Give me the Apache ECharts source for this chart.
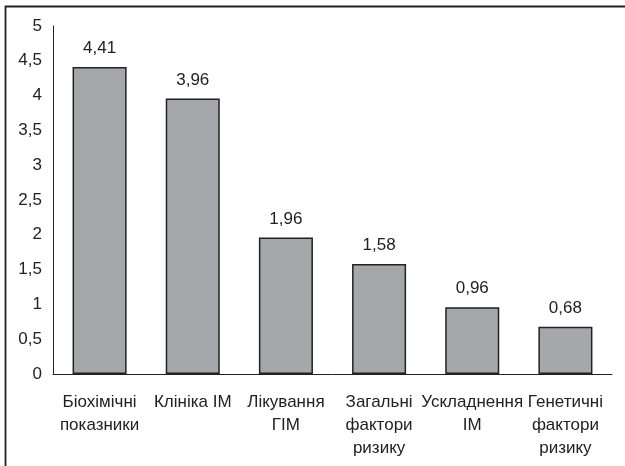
<!DOCTYPE html>
<html>
<head>
<meta charset="utf-8">
<style>
  html, body { margin: 0; padding: 0; background: #fff; }
  #chart { width: 625px; height: 466px; }
</style>
<script src="https://cdn.jsdelivr.net/npm/echarts@6/dist/echarts.min.js"></script>
</head>
<body>
<div id="chart"></div>
<script>
// Categories, values and tick labels
const categories = [
  'Біохімічні\nпоказники',
  'Клініка ІМ',
  'Лікування\nГІМ',
  'Загальні\nфактори\nризику',
  'Ускладнення\nІМ',
  'Генетичні\nфактори\nризику'
];
const values = [4.41, 3.96, 1.96, 1.58, 0.96, 0.68];
const yTicks = [0, 0.5, 1, 1.5, 2, 2.5, 3, 3.5, 4, 4.5, 5];

const fmt = v => String(v).replace('.', ',');
const FONT = '"Liberation Sans", Arial, sans-serif';

const chart = echarts.init(document.getElementById('chart'), null, { renderer: 'canvas' });
chart.setOption({
  animation: false,
  backgroundColor: '#fff',
  textStyle: { fontFamily: FONT },
  graphic: [{
    type: 'rect',
    shape: { x: 5.5, y: 6.5, width: 640, height: 480 },
    style: { fill: 'none', stroke: '#222', lineWidth: 1.8 },
    silent: true
  }],
  grid: { left: 53, right: 13, top: 26, bottom: 92 },
  xAxis: {
    type: 'category',
    data: categories,
    axisLine: { lineStyle: { color: '#222', width: 1 } },
    axisTick: { show: false },
    axisLabel: {
      interval: 0, margin: 17, color: '#222',
      fontSize: 17, lineHeight: 23, fontFamily: FONT
    }
  },
  yAxis: {
    type: 'value',
    min: yTicks[0],
    max: yTicks[yTicks.length - 1],
    interval: yTicks[1] - yTicks[0],
    axisLine: { show: true, lineStyle: { color: '#222', width: 1 } },
    axisTick: { show: false },
    splitLine: { show: false },
    axisLabel: {
      color: '#222', fontSize: 17, margin: 11, fontFamily: FONT,
      formatter: v => fmt(v)
    }
  },
  series: [{
    type: 'bar',
    data: values,
    barWidth: '58%',
    itemStyle: { color: '#a6a7ab', borderColor: '#222', borderWidth: 1.5 },
    label: {
      show: true, position: 'top', distance: 10,
      color: '#222', fontSize: 17, fontFamily: FONT,
      formatter: p => fmt(p.value)
    }
  }]
});
</script>
</body>
</html>
